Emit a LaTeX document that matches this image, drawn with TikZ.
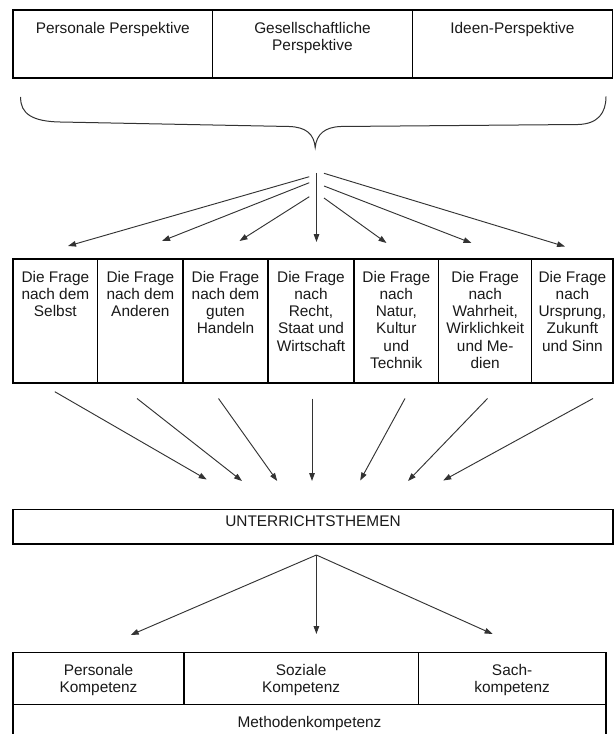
\documentclass[tikz,border=0pt]{standalone}
\usepackage{fontspec}
\setmainfont{Liberation Sans}
\usetikzlibrary{arrows.meta,fit}
\begin{document}
\begin{tikzpicture}[x=0.75pt,y=-0.75pt,
  cell/.style={draw=black, line width=0.9pt, inner sep=0pt, font=\fontsize{11.55pt}{12.94pt}\selectfont, text=black!90},
  lbl/.style={inner sep=0pt, anchor=north, yshift=-8.55pt, align=center, font=\fontsize{11.55pt}{12.94pt}\selectfont, text=black!90},
  arr/.style={draw=black!80, line width=0.7pt, -{Triangle[length=6pt,width=4.2pt]}},
  brace/.style={draw=black!80, line width=0.75pt}]
\useasboundingbox (0,0) rectangle (614,734);
% top row
\node[cell, fit={(13,10) (212.6,78)}] (p1) {};
\node[cell, fit={(212.6,10) (412.3,78)}] (p2) {};
\node[cell, fit={(412.3,10) (612.5,78)}] (p3) {};
\node[lbl] (tp1) at (p1.north) {\strut Personale Perspektive};
\node[lbl] (tp2) at (p2.north) {\strut Gesellschaftliche\\Perspektive};
\node[lbl] (tp3) at (p3.north) {\strut Ideen-Perspektive};
% brace
\draw[brace] (20.7,97) .. controls (20,114) and (33,121.5) .. (60,122)
  -- (289,126.5) .. controls (306,127) and (314,134) .. (315.2,147.5)
  .. controls (316.5,134) and (325,127) .. (341,126.5)
  -- (578,124.5) .. controls (598,124) and (606,113) .. (606,96.5);
% arrows to questions
\coordinate (s1) at (309.3,176.7);
\coordinate (s2) at (309.3,182.7);
\coordinate (s3) at (309.3,196.7);
\coordinate (s4) at (316.5,173);
\coordinate (s5) at (324,198);
\coordinate (s6) at (324,186);
\coordinate (s7) at (324,173.3);
\coordinate (e1) at (68,246);
\coordinate (e2) at (162,241);
\coordinate (e3) at (239.5,241);
\coordinate (e4) at (316.5,242);
\coordinate (e5) at (386.5,243);
\coordinate (e6) at (471.5,243);
\coordinate (e7) at (565,246.5);
\foreach \i in {1,...,7} {\draw[arr] (s\i) -- (e\i);}
% question row
\node[cell, fit={(13,259) (97.7,383)}] (q1) {};
\node[cell, fit={(97.7,259) (183,383)}] (q2) {};
\node[cell, fit={(183,259) (268,383)}] (q3) {};
\node[cell, fit={(268,259) (354,383)}] (q4) {};
\node[cell, fit={(354,259) (438.6,383)}] (q5) {};
\node[cell, fit={(438.6,259) (531.8,383)}] (q6) {};
\node[cell, fit={(531.8,259) (613,383)}] (q7) {};
\node[lbl] (tq1) at (q1.north) {\strut Die Frage\\nach dem\\Selbst};
\node[lbl] (tq2) at (q2.north) {\strut Die Frage\\nach dem\\Anderen};
\node[lbl] (tq3) at (q3.north) {\strut Die Frage\\nach dem\\guten\\Handeln};
\node[lbl] (tq4) at (q4.north) {\strut Die Frage\\nach\\Recht,\\Staat und\\Wirtschaft};
\node[lbl] (tq5) at (q5.north) {\strut Die Frage\\nach\\Natur,\\Kultur\\und\\Technik};
\node[lbl] (tq6) at (q6.north) {\strut Die Frage\\nach\\Wahrheit,\\Wirklichkeit\\und Me-\\dien};
\node[lbl] (tq7) at (q7.north) {\strut Die Frage\\nach\\Ursprung,\\Zukunft\\und Sinn};
% arrows to topics
\coordinate (u1) at (54.8,391.7);
\coordinate (u2) at (137,398.5);
\coordinate (u3) at (218.5,398.5);
\coordinate (u4) at (312,398.5);
\coordinate (u5) at (405,398.5);
\coordinate (u6) at (487.5,398.5);
\coordinate (u7) at (593,398.5);
\coordinate (v1) at (206.7,479.5);
\coordinate (v2) at (242,481);
\coordinate (v3) at (277.2,481);
\coordinate (v4) at (312,481);
\coordinate (v5) at (360.2,480.5);
\coordinate (v6) at (408,481);
\coordinate (v7) at (443.2,480.5);
\foreach \i in {1,...,7} {\draw[arr] (u\i) -- (v\i);}
% topics
\node[cell, fit={(13,509.3) (613,544)}] (th) {UNTERRICHTSTHEMEN};
% arrows to competences
\coordinate (k0) at (316.4,555);
\coordinate (k1) at (130.7,635);
\coordinate (k2) at (316.4,634);
\coordinate (k3) at (492.6,634);
\foreach \i in {1,2,3} {\draw[arr] (k0) -- (k\i);}
% competences
\node[cell, fit={(13,652.3) (184,704.3)}] (c1) {};
\node[cell, fit={(184,652.3) (418.2,704.3)}] (c2) {};
\node[cell, fit={(418.2,652.3) (606,704.3)}] (c3) {};
\node[cell, fit={(13,704.3) (606,745)}] (c4) {};
\node[lbl] (tc1) at (c1.north) {\strut Personale\\Kompetenz};
\node[lbl] (tc2) at (c2.north) {\strut Soziale\\Kompetenz};
\node[lbl] (tc3) at (c3.north) {\strut Sach-\\kompetenz};
\node[lbl] (tc4) at (c4.north) {\strut Methodenkompetenz};
\end{tikzpicture}
\end{document}
